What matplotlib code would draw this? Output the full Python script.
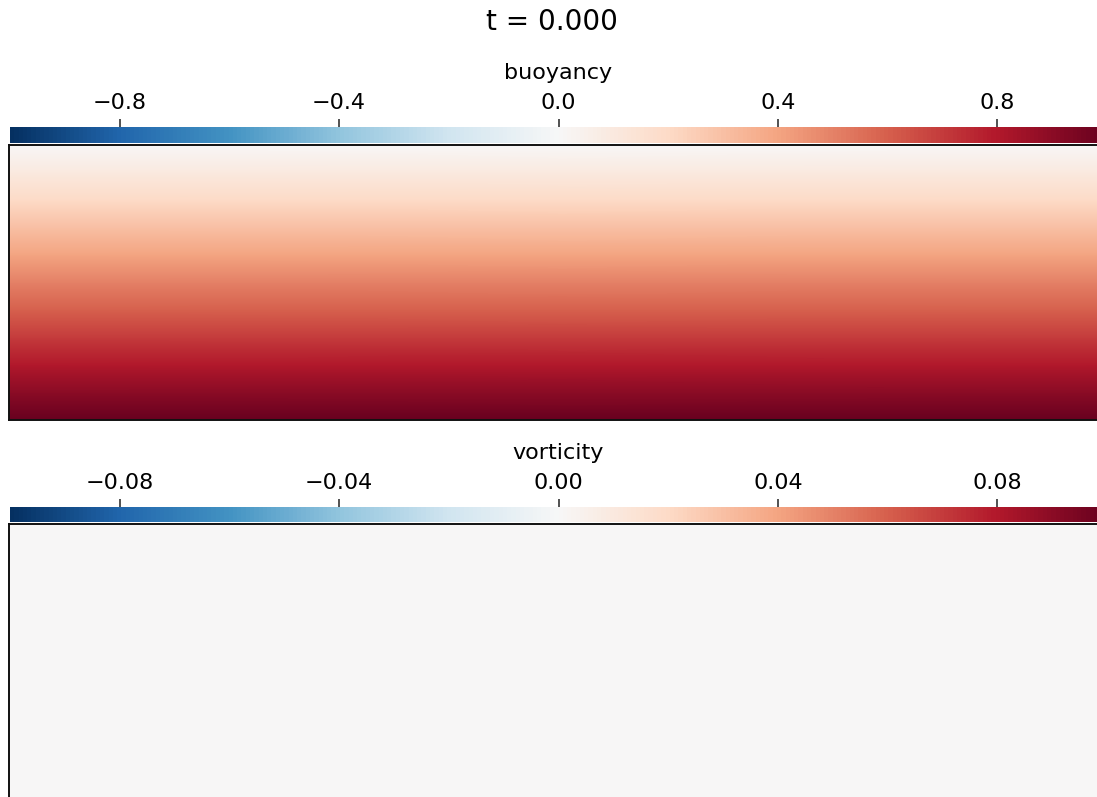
import numpy as np
import matplotlib
matplotlib.use("Agg")
import matplotlib.pyplot as plt

# ---- data ----
title = "t = 0.000"
field_names = ["buoyancy", "vorticity"]
x_edges = [0.0, 4.0]
z_levels = [0.0, 0.1, 0.2, 0.3, 0.4, 0.5, 0.6, 0.7, 0.8, 0.9, 1.0]
buoyancy_profile = [1.0, 0.9, 0.8, 0.7, 0.6, 0.5, 0.4, 0.3, 0.2, 0.1, 0.0]
vorticity_profile = [0.0, 0.0, 0.0, 0.0, 0.0, 0.0, 0.0, 0.0, 0.0, 0.0, 0.0]
clims = [1.0, 0.1]
cbar_ticks = [[-0.8, -0.4, 0.0, 0.4, 0.8], [-0.08, -0.04, 0.0, 0.04, 0.08]]
cbar_ticklabels = [["\u22120.8", "\u22120.4", "0.0", "0.4", "0.8"],
                   ["\u22120.08", "\u22120.04", "0.00", "0.04", "0.08"]]
profiles = [buoyancy_profile, vorticity_profile]

W, H = 1097, 797
fig = plt.figure(figsize=(W / 100, H / 100), dpi=100)

def fx(px):
    return px / W

def fy(py):
    return 1 - py / H

# pixel layout: (axes_top, axes_bottom, cbar_top, cbar_bottom)
layout = [(145, 420, 127, 143), (524, 799, 507, 522)]
left, right = 9, 1106

X = np.array(x_edges)
Z = np.array(z_levels)
for name, prof, clim, tks, tkl, (at, ab, ct, cb) in zip(
        field_names, profiles, clims, cbar_ticks, cbar_ticklabels, layout):
    ax = fig.add_axes([fx(left), fy(ab), fx(right - left), (ab - at) / H])
    data = np.tile(np.array(prof)[:, None], (1, len(X)))
    mesh = ax.pcolormesh(X, Z, data, cmap="RdBu_r", vmin=-clim, vmax=clim,
                         shading="gouraud")
    ax.set_xlim(0, 4)
    ax.set_ylim(0, 1)
    ax.set_xticks([])
    ax.set_yticks([])
    for s in ax.spines.values():
        s.set_linewidth(1.4)
        s.set_color("#111111")
    cax = fig.add_axes([fx(left + 1), fy(cb), fx(right - left), (cb - ct) / H])
    cbar = fig.colorbar(mesh, cax=cax, orientation="horizontal")
    cbar.outline.set_visible(False)
    cax.xaxis.set_ticks_position("top")
    cax.xaxis.set_label_position("top")
    cbar.set_ticks(tks)
    cbar.set_ticklabels(tkl)
    cax.tick_params(axis="x", labelsize=16, length=6, width=1.1, pad=4,
                    colors="#222222", labelcolor="black")
    cax.set_xlabel(name, fontsize=16, labelpad=10)

fig.text(fx(552), fy(22), title, ha="center", va="center", fontsize=20)

fig.savefig("out.png", dpi=100)
